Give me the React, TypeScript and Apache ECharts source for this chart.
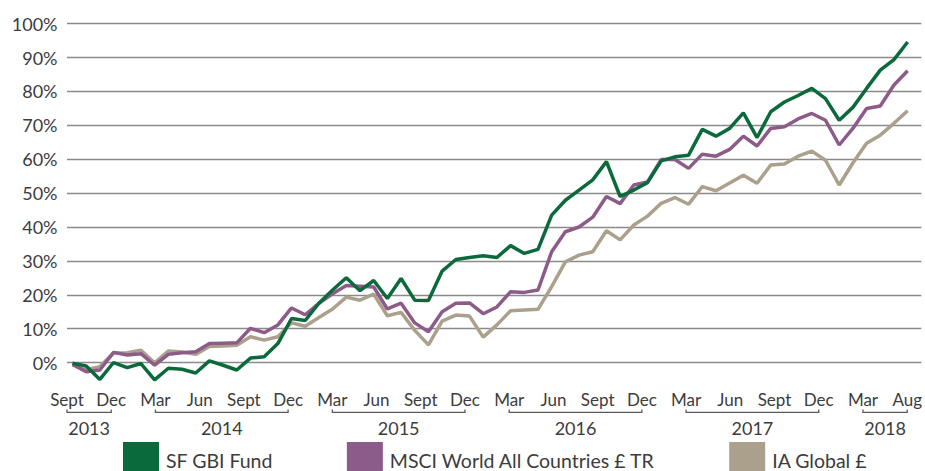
import React, { useEffect, useRef } from 'react';
import * as echarts from 'echarts';

const seriesNames = ['SF GBI Fund', 'MSCI World All Countries £ TR', 'IA Global £'];

const sfGbiFund = [
  -0.2, -1.0, -5.0, 0.0, -1.5, -0.3, -5.1, -1.7, -2.0, -3.1,
  0.5, -0.8, -2.2, 1.3, 1.7, 5.6, 13.0, 12.4, 17.5, 21.4,
  25.0, 21.2, 24.2, 18.9, 24.8, 18.4, 18.3, 27.0, 30.4, 31.0,
  31.5, 31.0, 34.5, 32.2, 33.4, 43.5, 47.9, 50.9, 53.9, 59.3,
  49.0, 50.9, 53.1, 59.5, 60.7, 61.2, 68.8, 66.8, 69.1, 73.7,
  66.4, 74.0, 76.9, 78.8, 80.9, 77.9, 71.5, 75.3, 80.9, 86.3,
  89.4, 94.6,
];

const msciWorld = [
  -0.6, -2.7, -2.2, 3.0, 2.2, 2.6, -0.8, 2.4, 2.9, 3.2,
  5.6, 5.7, 5.8, 10.1, 8.8, 11.1, 16.1, 14.1, 17.5, 20.3,
  22.7, 22.5, 22.3, 15.8, 17.5, 11.7, 9.1, 15.0, 17.5, 17.6,
  14.4, 16.4, 20.9, 20.7, 21.4, 32.7, 38.6, 40.0, 42.9, 49.0,
  46.9, 52.4, 53.3, 59.9, 59.9, 57.3, 61.5, 60.9, 62.9, 66.8,
  63.9, 69.1, 69.6, 71.9, 73.5, 71.5, 64.2, 69.1, 75.0, 75.7,
  81.9, 86.1,
];

const iaGlobal = [
  -0.4, -2.1, -1.2, 2.8, 2.9, 3.6, -0.1, 3.4, 3.1, 2.4,
  4.7, 4.9, 5.1, 7.6, 6.6, 7.6, 11.7, 10.7, 13.3, 15.8,
  19.3, 18.4, 20.2, 13.8, 14.8, 9.5, 5.2, 12.2, 14.0, 13.7,
  7.5, 11.1, 15.3, 15.5, 15.7, 22.4, 29.7, 31.7, 32.7, 38.9,
  36.2, 40.6, 43.2, 47.0, 48.7, 46.7, 51.9, 50.7, 53.0, 55.3,
  52.9, 58.3, 58.6, 60.9, 62.4, 59.7, 52.4, 58.9, 64.7, 67.1,
  70.6, 74.3,
];

const monthLabels = [
  'Sept', 'Dec',
  'Mar', 'Jun', 'Sept', 'Dec',
  'Mar', 'Jun', 'Sept', 'Dec',
  'Mar', 'Jun', 'Sept', 'Dec',
  'Mar', 'Jun', 'Sept', 'Dec',
  'Mar', 'Aug',
];

const yearLabels = ['2013', '2014', '2015', '2016', '2017', '2018'];
const yearStart = [0, 2, 6, 10, 14, 18];
const yearEnd = [1, 5, 9, 13, 17, 19];

const colors = ['#0B6A3B', '#8D5B89', '#ABA08B'];
const FONT = 'Lato, "Noto Sans", sans-serif';
const TEXT = '#3c3c3c';

export default function App() {
  const ref = useRef<HTMLDivElement>(null);

  useEffect(() => {
    if (!ref.current) return;
    const chart = echarts.init(ref.current, null, { renderer: 'svg' });
    const dataSets = [sfGbiFund, msciWorld, iaGlobal];
    const lineSeries = [2, 1, 0].map((k) => ({
      name: seriesNames[k],
      type: 'line',
      xAxisIndex: 0,
      yAxisIndex: 0,
      data: dataSets[k].map((v, i) => [i, v]),
      symbol: 'none',
      showSymbol: false,
      itemStyle: { color: colors[k] },
      lineStyle: { color: colors[k], width: 3.5 },
      z: 3 + (2 - k),
    }));

    chart.setOption({
      animation: false,
      grid: { left: 67, right: 0, top: 23.7, bottom: 74.6, containLabel: false },
      legend: {
        data: seriesNames,
        left: 123,
        top: 442,
        padding: 0,
        icon: 'rect',
        itemWidth: 36,
        itemHeight: 36,
        itemGap: 74,
        selectedMode: false,
        textStyle: { fontSize: 19.5, fontFamily: FONT, color: TEXT, padding: [0, 0, 0, 2] },
      },
      xAxis: [
        {
          type: 'value',
          min: -0.4,
          max: 62,
          show: false,
        },
        {
          type: 'value',
          min: 0,
          max: 19.32,
          interval: 1,
          position: 'bottom',
          axisLine: { show: false },
          axisTick: { show: false },
          splitLine: { show: false },
          axisLabel: {
            margin: -5,
            fontSize: 17,
            fontFamily: FONT,
            color: TEXT,
            formatter: (v: number) => monthLabels[v] ?? '',
          },
        },
      ],
      yAxis: {
        type: 'value',
        min: -10,
        max: 100,
        interval: 10,
        axisLine: { show: false },
        axisTick: { show: false },
        axisLabel: {
          margin: 9.5,
          fontSize: 18,
          fontFamily: FONT,
          color: TEXT,
          formatter: (v: number) => (v < 0 ? '' : v + '%'),
        },
        splitLine: {
          show: true,
          showMinLine: false,
          lineStyle: { color: '#8a8a8a', width: 1.3 },
        },
      },
      series: [
        ...lineSeries,
        {
          type: 'custom',
          xAxisIndex: 1,
          yAxisIndex: 0,
          silent: true,
          clip: false,
          data: yearLabels.map((_, i) => [yearStart[i], yearEnd[i], i]),
          renderItem: (params: any, api: any) => {
            const s = api.value(0);
            const e = api.value(1);
            const idx = api.value(2);
            const p1 = api.coord([s, -10]);
            const p2 = api.coord([e, -10]);
            const y = p1[1] + 16;
            return {
              type: 'group',
              children: [
                {
                  type: 'polyline',
                  shape: { points: [[p1[0], y - 3], [p1[0], y], [p2[0], y], [p2[0], y - 3]] },
                  style: { stroke: '#5a5a5a', lineWidth: 1.3, fill: null },
                },
                {
                  type: 'text',
                  style: {
                    text: yearLabels[idx],
                    x: (p1[0] + p2[0]) / 2,
                    y: y + 16,
                    align: 'center',
                    verticalAlign: 'middle',
                    fontSize: 18,
                    fontFamily: FONT,
                    fill: TEXT,
                  },
                },
              ],
            };
          },
        },
      ],
    });

    return () => chart.dispose();
  }, []);

  return (
    <div
      ref={ref}
      style={{ position: 'fixed', left: 0, top: 0, width: 925, height: 471, background: '#fff' }}
    />
  );
}
